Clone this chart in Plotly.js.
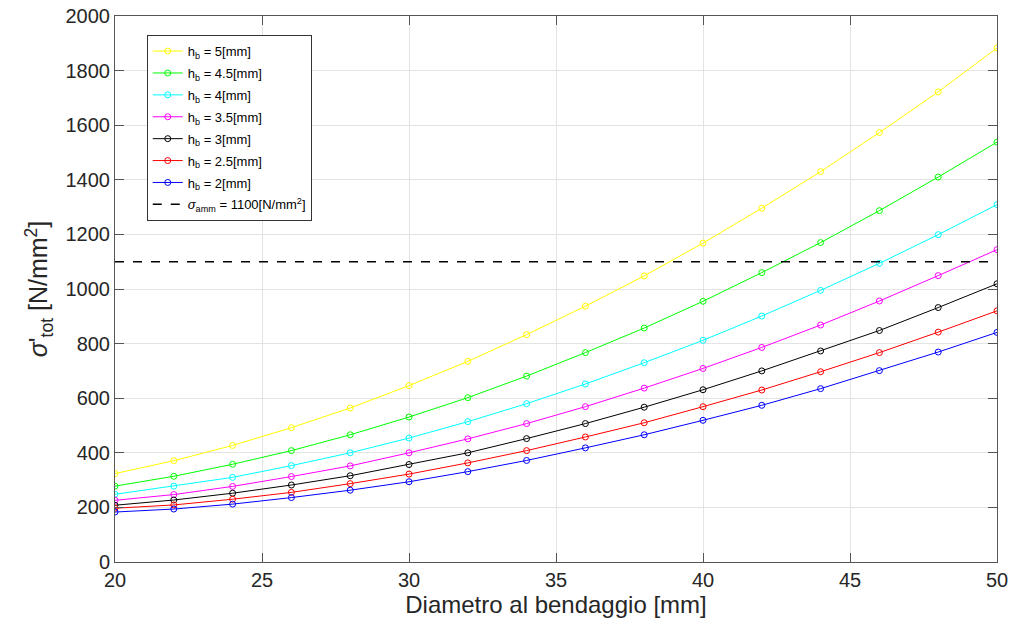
<!DOCTYPE html>
<html>
<head>
<meta charset="utf-8">
<script src="https://cdn.plot.ly/plotly-3.0.1.min.js"></script>
<style>html,body{margin:0;padding:0;background:#fff;}#chart{width:1013px;height:630px;}</style>
</head>
<body>
<div id="chart"></div>
<script>
const diam = [20,22,24,26,28,30,32,34,36,38,40,42,44,46,48,50];
const hb5   = [324,371,427,492,564,646,735,833,937,1048,1168,1296,1430,1573,1722,1883];
const hb45  = [278,314,358,408,466,531,602,681,767,857,955,1060,1170,1287,1410,1538];
const hb4   = [248,278,310,353,400,454,514,580,652,730,812,901,995,1094,1199,1309];
const hb35  = [226,247,277,313,352,400,451,507,569,637,709,786,868,956,1049,1144];
const hb3   = [208,227,252,282,316,357,400,452,507,567,631,700,773,848,932,1019];
const hb25  = [197,209,230,255,287,322,363,408,458,510,569,630,697,767,842,920];
const hb2   = [183,194,212,236,263,294,331,372,418,466,519,574,635,701,769,841];
const sigmaAmm = 1100;
const seriesNames = ['h<sub>b</sub> = 5[mm]','h<sub>b</sub> = 4.5[mm]','h<sub>b</sub> = 4[mm]','h<sub>b</sub> = 3.5[mm]','h<sub>b</sub> = 3[mm]','h<sub>b</sub> = 2.5[mm]','h<sub>b</sub> = 2[mm]'];
const seriesVals = [hb5,hb45,hb4,hb35,hb3,hb25,hb2];
const colors = ['#ffff00','#00ff00','#00ffff','#ff00ff','#000000','#ff0000','#0000ff'];

const traces = seriesVals.map((v,i)=>({
  x: diam, y: v, name: seriesNames[i], type:'scatter', mode:'lines+markers',
  legendgroup:'g'+i,
  line:{color:colors[i], width:1},
  marker:{symbol:'circle-open', size:6, color:colors[i], line:{width:1}}
}));
traces.push({
  x:[diam[0], diam[diam.length-1]], y:[sigmaAmm, sigmaAmm], type:'scatter', mode:'lines',
  legendgroup:'gamm',
  name:'<i>σ</i><sub>amm</sub> = 1100[N/mm<sup>2</sup>]',
  line:{color:'#000', width:1.5, dash:'dash'}
});

const axisCommon = {
  showgrid:true, gridcolor:'#e3e3e3', gridwidth:1,
  showline:true, linecolor:'#555', linewidth:1, mirror:'ticks',
  ticks:'inside', ticklen:9, tickcolor:'#555', tickwidth:1,
  tickfont:{family:'Liberation Sans, Arial, sans-serif', size:20, color:'#262626'},
  zeroline:false
};

const layout = {
  width:1013, height:630,
  margin:{l:115, r:16, t:16, b:68},
  paper_bgcolor:'#fff', plot_bgcolor:'#fff',
  font:{family:'Liberation Sans, Arial, sans-serif', color:'#262626'},
  xaxis:Object.assign({}, axisCommon, {
    range:[20,50], dtick:5, tick0:20,
    title:{text:'Diametro al bendaggio [mm]', font:{size:24, color:'#262626'}, standoff:4}
  }),
  yaxis:Object.assign({}, axisCommon, {
    range:[0,2000], dtick:200, tick0:0,
    title:{text:"<i>σ</i>'<sub>tot</sub> [N/mm<sup>2</sup>]", font:{size:25, color:'#262626'}, standoff:10}
  }),
  showlegend:true,
  legend:{
    x:0.036, y:0.965, xanchor:'left', yanchor:'top',
    bgcolor:'#fff', bordercolor:'#333', borderwidth:1,
    font:{size:13, color:'#000'}, traceorder:'grouped', tracegroupgap:2, itemwidth:30
  }
};

Plotly.newPlot('chart', traces, layout, {displayModeBar:false, staticPlot:true});
</script>
</body>
</html>
